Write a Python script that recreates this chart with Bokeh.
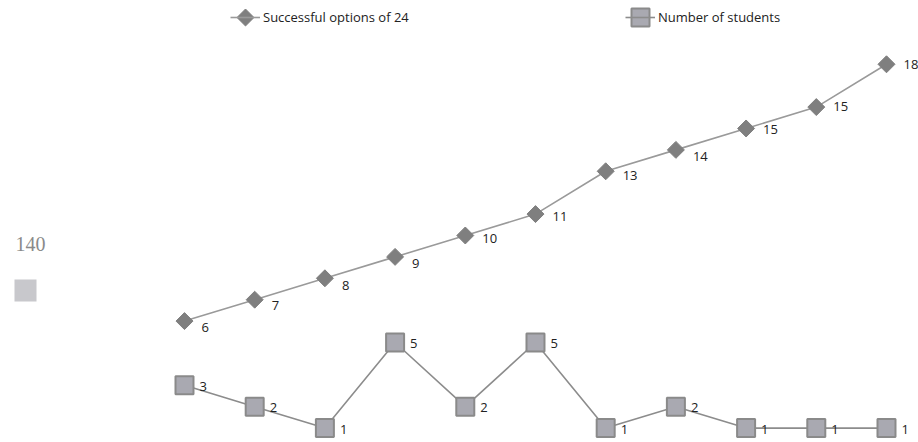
import math
from bokeh.plotting import figure
from bokeh.models import ColumnDataSource, Range1d, Legend, LegendItem, Label, BoxAnnotation
from bokeh.core.properties import value
from bokeh.embed import file_html
from bokeh.resources import INLINE

# Data
positions = list(range(11))
successful_options = [6, 7, 8, 9, 10, 11, 13, 14, 15, 16, 18]
successful_labels = ["6", "7", "8", "9", "10", "11", "13", "14", "15", "15", "18"]
number_of_students = [3, 2, 1, 5, 2, 5, 1, 2, 1, 1, 1]
series_names = ["Successful options of 24", "Number of students"]

# label placement style (vertical nudge in px per diamond label)
label_nudge = [6, 6, 7, 7, 3, 2, 4, 7, 1, -1, 0]

W, H = 918, 442
X0, X1 = -2.621, 10.456
Y0, Y1 = 0.327, 20.98
p = figure(width=W, height=H, output_backend="svg", toolbar_location=None,
           x_range=Range1d(X0, X1), y_range=Range1d(Y0, Y1),
           min_border=0, outline_line_color=None)
p.axis.visible = False
p.grid.visible = False
p.background_fill_color = "white"
p.border_fill_color = "white"


def px_x(px):
    return X0 + px / W * (X1 - X0)


def px_y(py):
    return Y1 - py / H * (Y1 - Y0)


src_a = ColumnDataSource(dict(x=positions, y=successful_options, t=successful_labels,
                              dy=label_nudge))
src_b = ColumnDataSource(dict(x=positions, y=number_of_students,
                              t=[str(v) for v in number_of_students]))

A_LINE, A_FILL = "#9a9a9a", "#7f7f7f"
B_LINE, B_FILL, B_EDGE = "#8c8c8c", "#a9a9b1", "#8a8a8a"

la = p.line("x", "y", source=src_a, line_color=A_LINE, line_width=1.6)
ma = p.scatter("x", "y", source=src_a, marker="square", angle=math.pi / 4,
               size=12, fill_color=A_FILL, line_color=A_FILL)
lb = p.line("x", "y", source=src_b, line_color=B_LINE, line_width=1.6)
mb = p.scatter("x", "y", source=src_b, marker="square", size=18,
               fill_color=B_FILL, line_color=B_EDGE, line_width=2)

p.text("x", "y", text="t", source=src_a, x_offset=17, y_offset="dy",
       text_align="left", text_baseline="middle", text_font=value("Open Sans"),
       text_font_size="13px", text_color="#222222")
p.text("x", "y", text="t", source=src_b, x_offset=15, y_offset=1,
       text_align="left", text_baseline="middle", text_font=value("Open Sans"),
       text_font_size="13px", text_color="#222222")

# legend (lines + labels from Legend, full-size markers on top)
legend = Legend(items=[LegendItem(label=series_names[0], renderers=[la]),
                       LegendItem(label=series_names[1], renderers=[lb])],
                orientation="horizontal", location=(230, 415),
                glyph_width=30, glyph_height=20, label_standoff=3,
                label_width=362, spacing=0, padding=0, margin=0,
                border_line_color=None, background_fill_alpha=0,
                label_text_font="Open Sans", label_text_font_size="13px",
                label_text_color="#222222")
p.add_layout(legend)
p.scatter([px_x(245)], [px_y(17)], marker="square", angle=math.pi / 4, size=12,
          fill_color=A_FILL, line_color=A_FILL)
p.scatter([px_x(640)], [px_y(17)], marker="square", size=18,
          fill_color=B_FILL, line_color=B_EDGE, line_width=2)

# page decoration
p.add_layout(Label(x=30, y=H - 243, x_units="screen", y_units="screen", text="140",
                   text_align="center", text_baseline="middle",
                   text_font="Liberation Serif", text_font_size="20px",
                   text_color="#8a8a8a"))
p.add_layout(BoxAnnotation(left=14, right=36, bottom=H - 301, top=H - 279,
                           left_units="screen", right_units="screen",
                           bottom_units="screen", top_units="screen",
                           fill_color="#c8c8cc", fill_alpha=1, line_color=None))

open("out.html", "w").write(file_html(p, INLINE))
